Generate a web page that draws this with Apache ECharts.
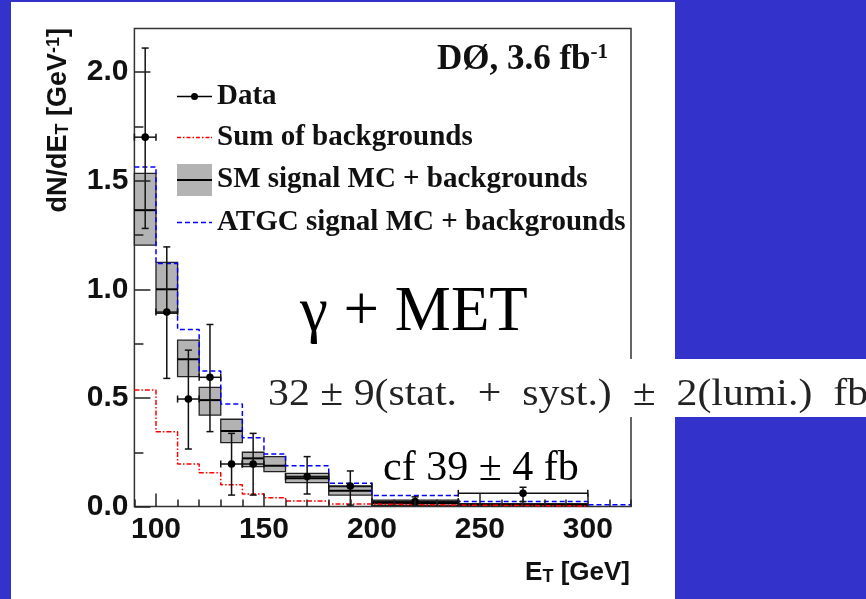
<!DOCTYPE html>
<html><head><meta charset="utf-8">
<script src="https://cdn.jsdelivr.net/npm/echarts@6/dist/echarts.min.js"></script>
<style>html,body{margin:0;padding:0;background:#3333cc}#c{width:866px;height:599px}</style>
</head><body><div id="c"></div>
<script>
// ---- data ----
const binLow   = [90, 100, 110, 120, 130, 140, 150, 160, 180, 200, 240];
const binHigh  = [100, 110, 120, 130, 140, 150, 160, 180, 200, 240, 300];
const smCentral = [1.364, 1.000, 0.678, 0.490, 0.348, 0.222, 0.188, 0.130, 0.073, 0.017, 0.008];
const smDown    = [1.203, 0.889, 0.598, 0.421, 0.294, 0.184, 0.161, 0.110, 0.053, 0.005, 0.002];
const smUp      = [1.533, 1.124, 0.766, 0.549, 0.402, 0.250, 0.230, 0.153, 0.092, 0.030, 0.014];
const bkgSum    = [0.536, 0.345, 0.196, 0.156, 0.100, 0.058, 0.041, 0.026, 0.012, 0.007, 0.003];
const atgcEdges = [90, 100, 110, 120, 130, 140, 150, 160, 180, 200, 240, 300, 320];
const atgcSum   = [1.563, 1.119, 0.815, 0.624, 0.472, 0.317, 0.242, 0.188, 0.107, 0.051, 0.023, 0.008];
const dataX     = [95, 105, 115, 125, 135, 145, 170, 190, 220, 270];
const dataXLow  = [90, 100, 110, 120, 130, 140, 160, 180, 200, 240];
const dataXHigh = [100, 110, 120, 130, 140, 150, 180, 200, 240, 300];
const dataY     = [1.70, 0.895, 0.495, 0.595, 0.196, 0.196, 0.138, 0.095, 0.023, 0.061];
const dataYLow  = [1.28, 0.59, 0.265, 0.345, 0.053, 0.053, 0.058, 0.007, 0.008, 0.023];
const dataYHigh = [2.11, 1.195, 0.72, 0.838, 0.337, 0.337, 0.23, 0.164, 0.045, 0.089];
const xMajorTicks = [100, 150, 200, 250, 300];
const yMajorTicks = [0, 0.5, 1.0, 1.5, 2.0];
const yMinorTicks = [0.25, 0.75, 1.25, 1.75];

const bkgEdges = binLow.concat([binHigh[binHigh.length - 1]]);
const stepData = (edges, vals) => edges.map((e, i) => [e, vals[Math.min(i, vals.length - 1)]]);

const SANS = 'Liberation Sans', SERIF = 'Liberation Serif';
const tickLabel = {fontFamily: SANS, fontWeight: 'bold', fontSize: 30, color: '#111'};
const legendText = {fontFamily: SERIF, fontWeight: 'bold', fontSize: 29, color: '#111'};

const chart = echarts.init(document.getElementById('c'), null, {renderer: 'canvas'});
chart.setOption({
  animation: false,
  backgroundColor: '#3333cc',
  grid: {left: 134.4, right: 235, top: 28.5, bottom: 92.4, show: true,
         borderColor: '#333', borderWidth: 1.5, backgroundColor: 'transparent', containLabel: false},
  xAxis: [
    {type: 'value', min: 90, max: 320, position: 'bottom', z: 5,
     axisLine: {show: false}, splitLine: {show: false},
     axisTick: {inside: true, length: 13, customValues: xMajorTicks, lineStyle: {color: '#222', width: 1.5}},
     axisLabel: Object.assign({customValues: xMajorTicks, margin: 8}, tickLabel)},
    {type: 'value', min: 90, max: 320, interval: 10, position: 'bottom', z: 5,
     axisLine: {show: false}, splitLine: {show: false}, axisLabel: {show: false},
     axisTick: {inside: true, length: 7, lineStyle: {color: '#222', width: 1.5}}}
  ],
  yAxis: [
    {type: 'value', min: 0, max: 2.2, position: 'left', z: 5,
     axisLine: {show: false}, splitLine: {show: false},
     axisTick: {inside: true, length: 16, customValues: yMajorTicks, lineStyle: {color: '#222', width: 1.5}},
     axisLabel: Object.assign({customValues: yMajorTicks, margin: 6, padding: [8, 0, 0, 0],
       formatter: v => v.toFixed(1)}, tickLabel)},
    {type: 'value', min: 0, max: 2.2, position: 'left', z: 5,
     axisLine: {show: false}, splitLine: {show: false}, axisLabel: {show: false},
     axisTick: {inside: true, length: 9, customValues: yMinorTicks, lineStyle: {color: '#222', width: 1.5}}}
  ],
  legend: [
    {left: 177, top: 82, padding: 0, selectedMode: false, itemWidth: 35, itemHeight: 7, textStyle: legendText,
     data: [{name: 'Data', icon: 'path://M0,2.75L35,2.75L35,4.25L0,4.25Z M21,3.5A3.5,3.5,0,1,1,14,3.5A3.5,3.5,0,1,1,21,3.5Z', itemStyle: {color: '#000'}}]},
    {left: 177, top: 123, padding: 0, selectedMode: false, itemWidth: 35, itemHeight: 1.5, textStyle: legendText,
     data: [{name: 'Sum of backgrounds', icon: 'path://M0,0H4V1.5H0Z M6,0H7.5V1.5H6Z M9.5,0H13.5V1.5H9.5Z M15.5,0H17V1.5H15.5Z M19,0H23V1.5H19Z M25,0H26.5V1.5H25Z M28.5,0H32.5V1.5H28.5Z M34,0H35V1.5H34Z', itemStyle: {color: '#ff0000'}}]},
    {left: 177, top: 164, padding: 0, selectedMode: false, itemWidth: 35, itemHeight: 32, textStyle: legendText,
     data: [{name: 'SM signal MC + backgrounds', icon: 'rect', itemStyle: {color: '#b3b3b3'}}]},
    {left: 177, top: 165.5, padding: 0, selectedMode: false, itemWidth: 35, itemHeight: 2,
     textStyle: Object.assign({}, legendText, {color: 'rgba(0,0,0,0)'}),
     data: [{name: 'SM signal MC + backgrounds', icon: 'path://M0,0H35V2H0Z', itemStyle: {color: '#000'}}]},
    {left: 177, top: 208, padding: 0, selectedMode: false, itemWidth: 35, itemHeight: 1.5, textStyle: legendText,
     data: [{name: 'ATGC signal MC + backgrounds', icon: 'path://M0,0H5V1.5H0Z M8,0H13V1.5H8Z M16,0H21V1.5H16Z M24,0H29V1.5H24Z M32,0H35V1.5H32Z', itemStyle: {color: '#0000ff'}}]}
  ],
  series: [
    {name: 'SM signal MC + backgrounds', type: 'custom', xAxisIndex: 0, yAxisIndex: 0, z: 2,
     itemStyle: {color: '#b3b3b3'},
     data: binLow.map((x0, i) => [x0, binHigh[i], smDown[i], smUp[i], smCentral[i]]),
     encode: {x: [0, 1], y: [2, 3, 4]},
     renderItem: (params, api) => {
       const p0 = api.coord([api.value(0), api.value(3)]);
       const p1 = api.coord([api.value(1), api.value(2)]);
       const c0 = api.coord([api.value(0), api.value(4)]);
       const c1 = api.coord([api.value(1), api.value(4)]);
       return {type: 'group', children: [
         {type: 'rect', shape: {x: p0[0], y: p0[1], width: p1[0] - p0[0], height: p1[1] - p0[1]},
          style: {fill: '#b3b3b3', stroke: '#222', lineWidth: 1.3}},
         {type: 'line', shape: {x1: c0[0], y1: c0[1], x2: c1[0], y2: c1[1]}, style: {stroke: '#000', lineWidth: 2}}
       ]};
     }},
    {name: 'Sum of backgrounds', type: 'line', step: 'end', symbol: 'none', z: 3,
     itemStyle: {color: '#ff0000'},
     lineStyle: {color: '#ff0000', width: 1.5, type: [5, 2, 1.5, 2]},
     data: stepData(bkgEdges, bkgSum)},
    {name: 'ATGC signal MC + backgrounds', type: 'line', step: 'end', symbol: 'none', z: 3,
     itemStyle: {color: '#0000ff'},
     lineStyle: {color: '#0000ff', width: 1.5, type: [5, 3]},
     data: stepData(atgcEdges, atgcSum)},
    {name: 'Data', type: 'custom', z: 4, itemStyle: {color: '#000'},
     data: dataX.map((x, i) => [x, dataY[i], dataXLow[i], dataXHigh[i], dataYLow[i], dataYHigh[i]]),
     encode: {x: [0, 2, 3], y: [1, 4, 5]},
     renderItem: (params, api) => {
       const x = api.value(0), y = api.value(1);
       const c = api.coord([x, y]);
       const xl = api.coord([api.value(2), y]), xh = api.coord([api.value(3), y]);
       const yl = api.coord([x, api.value(4)]), yh = api.coord([x, api.value(5)]);
       const st = {stroke: '#111', lineWidth: 1.5};
       const k = 3.5;
       return {type: 'group', children: [
         {type: 'line', shape: {x1: xl[0], y1: c[1], x2: xh[0], y2: c[1]}, style: st},
         {type: 'line', shape: {x1: xl[0], y1: c[1] - k, x2: xl[0], y2: c[1] + k}, style: st},
         {type: 'line', shape: {x1: xh[0], y1: c[1] - k, x2: xh[0], y2: c[1] + k}, style: st},
         {type: 'line', shape: {x1: c[0], y1: yl[1], x2: c[0], y2: yh[1]}, style: st},
         {type: 'line', shape: {x1: c[0] - k, y1: yl[1], x2: c[0] + k, y2: yl[1]}, style: st},
         {type: 'line', shape: {x1: c[0] - k, y1: yh[1], x2: c[0] + k, y2: yh[1]}, style: st},
         {type: 'circle', shape: {cx: c[0], cy: c[1], r: 3.8}, style: {fill: '#000'}}
       ]};
     }}
  ],
  graphic: [
    {type: 'rect', z: -100, shape: {x: 11, y: 2, width: 664, height: 597}, style: {fill: '#ffffff'}},
    {type: 'rect', z: 50, shape: {x: 262, y: 359, width: 604, height: 58}, style: {fill: '#ffffff'}},
    {type: 'text', z: 51, x: 608, y: 60,
     style: {text: '{m|DØ, 3.6 fb}{s|-1}', align: 'right', verticalAlign: 'middle', fill: '#111',
       rich: {m: {fontFamily: SERIF, fontWeight: 'bold', fontSize: 35},
              s: {fontFamily: SERIF, fontWeight: 'bold', fontSize: 21, verticalAlign: 'top', lineHeight: 8}}}},
    {type: 'text', z: 51, x: 300, y: 313,
     style: {text: 'γ + MET', align: 'left', verticalAlign: 'middle', fill: '#000',
       fontFamily: SERIF, fontSize: 63}},
    {type: 'text', z: 51, x: 268, y: 395, scaleX: 1.1,
     style: {text: '32 ± 9(stat.  +  syst.)  ±  2(lumi.)  fb', align: 'left', verticalAlign: 'middle', fill: '#222',
       fontFamily: SERIF, fontSize: 38}},
    {type: 'text', z: 51, x: 383, y: 469,
     style: {text: 'cf 39 ± 4 fb', align: 'left', verticalAlign: 'middle', fill: '#000',
       fontFamily: SERIF, fontSize: 42}},
    {type: 'text', z: 51, x: 630, y: 573,
     style: {text: '{a|E}{b|T}{a| [GeV]}', align: 'right', verticalAlign: 'middle', fill: '#111',
       rich: {a: {fontFamily: SANS, fontWeight: 'bold', fontSize: 26},
              b: {fontFamily: SANS, fontWeight: 'bold', fontSize: 18, verticalAlign: 'bottom', lineHeight: 6}}}},
    {type: 'text', z: 51, x: 59, y: 28, rotation: Math.PI / 2,
     style: {text: '{a|dN/dE}{b|T}{a| [GeV}{c|-1}{a|]}', align: 'right', verticalAlign: 'middle', fill: '#111',
       rich: {a: {fontFamily: SANS, fontWeight: 'bold', fontSize: 27},
              b: {fontFamily: SANS, fontWeight: 'bold', fontSize: 18, verticalAlign: 'bottom', lineHeight: 6},
              c: {fontFamily: SANS, fontWeight: 'bold', fontSize: 18, verticalAlign: 'top', lineHeight: 6}}}}
  ]
});
</script></body></html>
